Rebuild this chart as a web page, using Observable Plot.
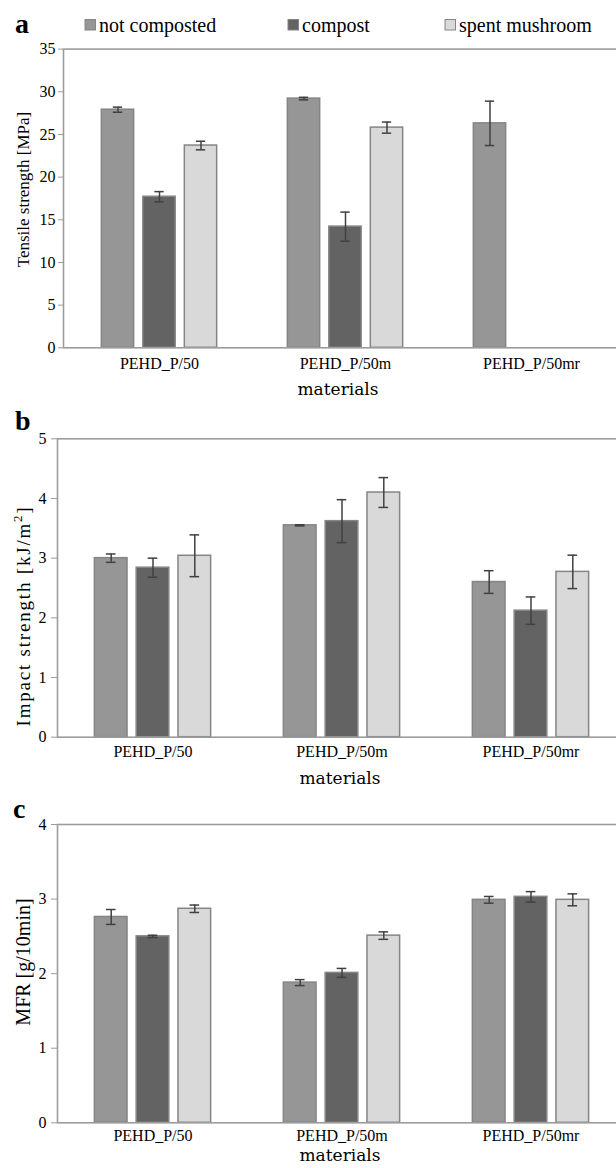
<!DOCTYPE html>
<html><head><meta charset="utf-8">
<script src="https://cdn.jsdelivr.net/npm/d3@7"></script>
<script src="https://cdn.jsdelivr.net/npm/@observablehq/plot@0.6"></script>
<style>
html,body{margin:0;padding:0;background:#fff;overflow:hidden;}
#wrap{position:relative;width:616px;height:1168px;overflow:hidden;}
.panel{position:absolute;left:0;}
#overlay{position:absolute;left:0;top:0;pointer-events:none;}
#wrap svg text{font-family:"Liberation Serif",serif;}
#wrap svg text.mat{font-family:"DejaVu Serif",serif;}
</style></head><body><div id="wrap"></div>
<script>
// ---- data ----
const materials = ["PEHD_P/50", "PEHD_P/50m", "PEHD_P/50mr"];
const seriesNames = ["not composted", "compost", "spent mushroom"];
const seriesColors = ["#969696", "#636363", "#d9d9d9"];

// rows = materials, columns = series
const tensile    = [[27.9, 17.7, 23.7], [29.2, 14.2, 25.8], [26.3, null, null]];
const tensileErr = [[0.3, 0.6, 0.5], [0.15, 1.7, 0.65], [2.6, null, null]];
const impact     = [[3.0, 2.84, 3.04], [3.55, 3.62, 4.1], [2.6, 2.12, 2.77]];
const impactErr  = [[0.07, 0.16, 0.35], [0.01, 0.36, 0.25], [0.19, 0.23, 0.28]];
const mfr        = [[2.76, 2.5, 2.87], [1.88, 2.01, 2.51], [2.99, 3.03, 2.99]];
const mfrErr     = [[0.1, 0.015, 0.05], [0.04, 0.06, 0.05], [0.045, 0.07, 0.08]];

const tensileTicks = [0, 5, 10, 15, 20, 25, 30, 35];
const impactTicks = [0, 1, 2, 3, 4, 5];
const mfrTicks = [0, 1, 2, 3, 4];

const wrap = document.getElementById("wrap");

function panel(cfg) {
  const {values, errors, yMax, yTicks, top, height, marginTop, marginBottom, marginLeft,
         xRange, step, tickSize, tickPadding, xTickPadding} = cfg;
  const rows = [];
  materials.forEach((m, i) => seriesNames.forEach((s, j) => {
    const v = values[i][j];
    if (v == null) return;
    const e = errors[i][j];
    rows.push({material: m, series: s, j, value: v, lo: v - e, hi: v + e});
  }));
  const band = (xRange[1] - xRange[0]) / materials.length;
  const barW = 33, capW = 10;
  const marks = [];
  seriesNames.forEach((s, j) => {
    const d = rows.filter(r => r.j === j);
    const dx = (j - 1) * step;
    const bi = (band - barW) / 2, ci = (band - capW) / 2;
    marks.push(Plot.barY(d, {x: "material", y: "value", fill: seriesColors[j], stroke: "#858585",
      strokeWidth: 1.5, insetLeft: bi, insetRight: bi, dx}));
    marks.push(Plot.ruleX(d, {x: "material", y1: "lo", y2: "hi", stroke: "#404040", strokeWidth: 1.5, dx}));
    marks.push(Plot.tickY(d, {x: "material", y: "hi", stroke: "#404040", strokeWidth: 1.5, insetLeft: ci, insetRight: ci, dx}));
    marks.push(Plot.tickY(d, {x: "material", y: "lo", stroke: "#404040", strokeWidth: 1.5, insetLeft: ci, insetRight: ci, dx}));
  });
  marks.push(Plot.frame({stroke: "#9c9c9c", strokeWidth: 1.6}));
  marks.push(Plot.axisY({ticks: yTicks, tickSize, tickPadding, stroke: "#9c9c9c", fill: "#000", label: null, tickFormat: d => String(d)}));
  marks.push(Plot.axisX({tickSize: 0, tickPadding: xTickPadding, fill: "#000", label: null}));
  const chart = Plot.plot({
    width: 616, height, marginTop, marginBottom, marginLeft, marginRight: -4,
    x: {domain: materials, range: xRange, padding: 0},
    y: {domain: [0, yMax]},
    style: {fontFamily: "Liberation Serif, serif", fontSize: "16px", color: "#000", background: "white"},
    marks
  });
  chart.classList.add("panel");
  chart.style.top = top + "px";
  wrap.appendChild(chart);
}

panel({values: tensile, errors: tensileErr, yMax: 35, yTicks: tensileTicks, top: 0, height: 400,
  marginTop: 48.6, marginBottom: 52.7, marginLeft: 63, xRange: [65, 625], step: 41.5,
  tickSize: 5, tickPadding: 3, xTickPadding: 10});
panel({values: impact, errors: impactErr, yMax: 5, yTicks: impactTicks, top: 400, height: 400,
  marginTop: 38.3, marginBottom: 63.3, marginLeft: 57, xRange: [57, 625], step: 41.8,
  tickSize: 6, tickPadding: 5, xTickPadding: 8});
panel({values: mfr, errors: mfrErr, yMax: 4, yTicks: mfrTicks, top: 800, height: 368,
  marginTop: 24, marginBottom: 45.7, marginLeft: 57, xRange: [57, 625], step: 41.8,
  tickSize: 6, tickPadding: 5, xTickPadding: 6.5});

// ---- overlay text: panel letters, legend, axis titles ----
const ov = d3.create("svg").attr("id", "overlay").attr("width", 616).attr("height", 1168);

[["a", 15, 33], ["b", 15, 430], ["c", 13, 818]].forEach(([t, x, y]) =>
  ov.append("text").attr("x", x).attr("y", y).attr("font-size", 28).attr("font-weight", "bold").text(t));

const legendSquareX = [85, 288, 445];
seriesNames.forEach((s, j) => {
  ov.append("rect").attr("x", legendSquareX[j]).attr("y", 19.5).attr("width", 10.5).attr("height", 10.5)
    .attr("fill", seriesColors[j]).attr("stroke", "#858585").attr("stroke-width", 1);
  ov.append("text").attr("x", legendSquareX[j] + 14).attr("y", 32).attr("font-size", 20).text(s);
});

[[338, 395], [340, 784], [340, 1161]].forEach(([x, y]) =>
  ov.append("text").attr("class", "mat").attr("x", x).attr("y", y).attr("text-anchor", "middle")
    .attr("font-size", 17).text("materials"));

function ylabel(cx, cy, size, spacing) {
  return ov.append("text").attr("transform", `translate(${cx},${cy}) rotate(-90)`)
    .attr("text-anchor", "middle").attr("dominant-baseline", "central")
    .attr("font-size", size).attr("letter-spacing", spacing);
}
ylabel(23.5, 189.5, 17, 0).text("Tensile strength [MPa]");
const lb = ylabel(22.5, 616, 19, 1.8);
lb.append("tspan").text("Impact strength [kJ/m");
lb.append("tspan").attr("dy", -6).attr("font-size", 13).text("2");
lb.append("tspan").attr("dy", 6).text("]");
ylabel(22.5, 962, 20, 0).text("MFR [g/10min]");

wrap.appendChild(ov.node());
</script></body></html>
